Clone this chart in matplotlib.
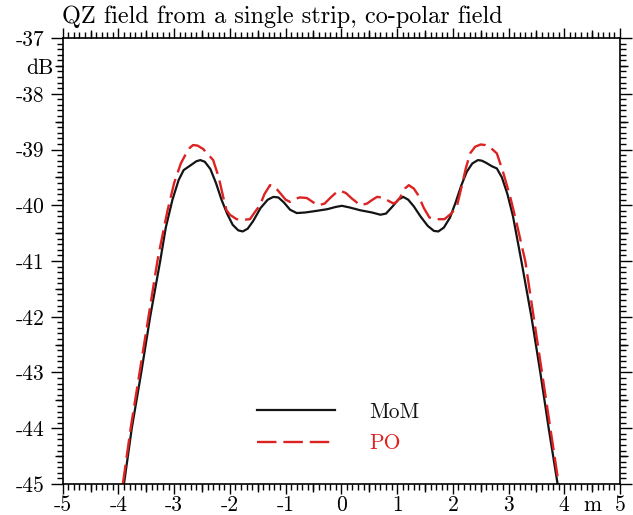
import matplotlib
matplotlib.use('Agg')
import matplotlib.pyplot as plt
import numpy as np

plt.rcParams['font.family'] = ['cmr10', 'DejaVu Serif']
plt.rcParams['axes.unicode_minus'] = False
plt.rcParams['axes.formatter.use_mathtext'] = True
plt.rcParams['lines.scale_dashes'] = False

title = "QZ field from a single strip, co-polar field"
x_ticks = [-5, -4, -3, -2, -1, 0, 1, 2, 3, 4, 5]
x_ticklabels = ['-5', '-4', '-3', '-2', '-1', '0', '1', '2', '3', '4', '5']
y_ticks = [-45, -44, -43, -42, -41, -40, -39, -38, -37]
y_ticklabels = ['-45', '-44', '-43', '-42', '-41', '-40', '-39', '-38', '-37']
x_unit, x_unit_pos = 'm', 4.5
y_unit, y_unit_pos = 'dB', -37.5

mom_x = [-3.90, -3.76, -3.59, -3.43, -3.25, -3.15, -3.03, -2.92, -2.83, -2.70,
         -2.60, -2.53, -2.45, -2.35, -2.25, -2.15, -2.05, -1.95, -1.85, -1.77,
         -1.68, -1.58, -1.45, -1.32, -1.22, -1.13, -1.03, -0.92, -0.80, -0.65,
         -0.44, -0.25, -0.10, 0.01, 0.15, 0.34, 0.55, 0.70, 0.80, 0.92,
         1.02, 1.11, 1.20, 1.30, 1.42, 1.55, 1.66, 1.74, 1.84, 1.95,
         2.05, 2.15, 2.25, 2.35, 2.45, 2.52, 2.60, 2.70, 2.79, 2.88,
         2.98, 3.08, 3.23, 3.41, 3.57, 3.72, 3.88]
mom_y = [-45.0, -44.0, -43.0, -42.0, -41.0, -40.4, -39.9, -39.55, -39.37, -39.28,
         -39.21, -39.19, -39.22, -39.35, -39.6, -39.9, -40.15, -40.35, -40.45, -40.47,
         -40.42, -40.28, -40.05, -39.9, -39.85, -39.86, -39.95, -40.08, -40.14, -40.13,
         -40.10, -40.07, -40.03, -40.01, -40.04, -40.09, -40.13, -40.17, -40.15, -40.02,
         -39.9, -39.85, -39.9, -40.02, -40.2, -40.37, -40.46, -40.47, -40.40, -40.22,
         -39.95, -39.65, -39.4, -39.25, -39.19, -39.2, -39.24, -39.3, -39.34, -39.5,
         -39.8, -40.2, -41.0, -42.0, -43.0, -44.0, -45.0]

po_x = [-3.92, -3.78, -3.62, -3.46, -3.30, -3.25, -3.12, -3.00, -2.88, -2.80,
        -2.72, -2.66, -2.58, -2.48, -2.38, -2.30, -2.20, -2.12, -2.06, -2.00,
        -1.88, -1.75, -1.64, -1.55, -1.46, -1.38, -1.28, -1.20, -1.10, -1.00,
        -0.92, -0.82, -0.74, -0.62, -0.50, -0.41, -0.30, -0.18, -0.08, -0.02,
        0.08, 0.19, 0.34, 0.46, 0.56, 0.64, 0.72, 0.79, 0.88, 0.94,
        1.00, 1.06, 1.14, 1.21, 1.30, 1.38, 1.48, 1.58, 1.70, 1.85,
        1.97, 2.07, 2.15, 2.23, 2.31, 2.40, 2.50, 2.58, 2.68, 2.79,
        2.90, 3.03, 3.14, 3.24, 3.30, 3.45, 3.60, 3.75, 3.90]
po_y = [-45.0, -44.0, -43.0, -42.0, -41.0, -40.74, -40.1, -39.6, -39.25, -39.1,
        -38.97, -38.92, -38.93, -38.99, -39.1, -39.19, -39.5, -39.85, -40.09, -40.17,
        -40.25, -40.26, -40.25, -40.12, -40.0, -39.8, -39.64, -39.66, -39.78, -39.9,
        -39.94, -39.88, -39.86, -39.87, -39.95, -40.0, -39.97, -39.85, -39.76, -39.74,
        -39.78, -39.88, -40.0, -39.97, -39.90, -39.85, -39.86, -39.89, -39.94, -39.97,
        -39.93, -39.85, -39.7, -39.64, -39.7, -39.82, -40.05, -40.22, -40.25, -40.25,
        -40.15, -40.03, -39.7, -39.35, -39.07, -38.95, -38.91, -38.92, -38.97, -39.07,
        -39.4, -39.85, -40.3, -40.74, -41.0, -42.0, -43.0, -44.0, -45.0]

FS = 15.5
fig = plt.figure(figsize=(6.33, 5.15), dpi=100)
ax = fig.add_axes([0.099, 0.0602, 0.8805, 0.8660])

ax.plot(mom_x, mom_y, color='#141414', lw=1.6, label='MoM')
ax.plot(po_x, po_y, color='#dd2222', lw=1.7, dashes=(14, 5), label='PO')

ax.set_xlim(-5, 5)
ax.set_ylim(-45, -37)

for s in ax.spines.values():
    s.set_linewidth(1.2)

ax.set_xticks(x_ticks)
ax.set_xticklabels(x_ticklabels, fontsize=FS)
ax.set_yticks(y_ticks)
ax.set_yticklabels(y_ticklabels, fontsize=FS)
ax.set_xticks(np.arange(-5, 5.001, 0.1), minor=True)
ax.set_yticks(np.arange(-45, -36.999, 0.1), minor=True)
ax.tick_params(which='both', direction='out', top=True, right=True,
               labeltop=False, labelright=False, width=1.0)
ax.tick_params(axis='x', which='major', length=7.5, pad=0.5)
ax.tick_params(axis='y', which='major', length=8.5, pad=4.5)
ax.tick_params(which='minor', length=4)

half_x = [v + 0.5 for v in x_ticks[:-1]]
half_y = [v + 0.5 for v in y_ticks[:-1]]
for side in ['bottom', 'top']:
    sx = ax.secondary_xaxis(side)
    sx.set_xticks(half_x)
    if side == 'bottom':
        sx.set_xticklabels([x_unit if abs(v - x_unit_pos) < 1e-9 else '' for v in half_x], fontsize=FS)
    else:
        sx.set_xticklabels(['' for v in half_x])
    sx.tick_params(direction='out', length=6, width=1.0, pad=2)
    for s in sx.spines.values():
        s.set_visible(False)
for side in ['left', 'right']:
    sy = ax.secondary_yaxis(side)
    sy.set_yticks(half_y)
    if side == 'left':
        sy.set_yticklabels([y_unit if abs(v - y_unit_pos) < 1e-9 else '' for v in half_y], fontsize=FS)
    else:
        sy.set_yticklabels(['' for v in half_y])
    sy.tick_params(direction='out', length=6, width=1.0, pad=0.5)
    for s in sy.spines.values():
        s.set_visible(False)

leg = ax.legend(loc='center left', bbox_to_anchor=(0.349, 0.126), frameon=False,
                handlelength=3.6, handletextpad=1.6, labelspacing=0.55,
                borderpad=0, borderaxespad=0, labelcolor='linecolor', fontsize=FS)

fig.text(62 / 633, 1 - 23 / 515, title, fontsize=17.5, ha='left', va='baseline')

fig.savefig('out.png', dpi=100)
